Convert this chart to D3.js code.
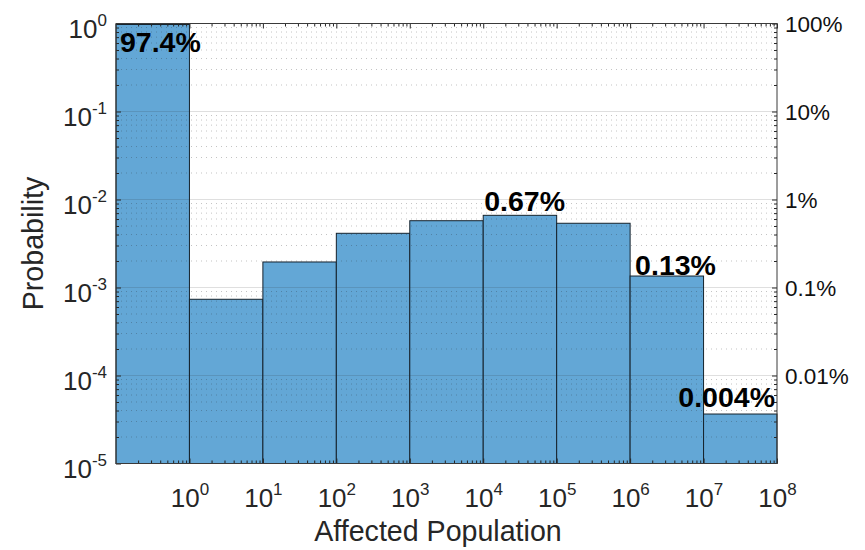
<!DOCTYPE html>
<html>
<head>
<meta charset="utf-8">
<script src="https://cdn.jsdelivr.net/npm/d3@7"></script>
<style>
  html, body { margin: 0; padding: 0; background: #fff; }
  svg { display: block; }
  text { font-family: "Liberation Sans", Arial, Helvetica, sans-serif; fill: #262626; }
</style>
</head>
<body>
<svg id="chart" width="865" height="550"></svg>
<script>
// ---- data ----
const binEdges = [1e-1, 1e0, 1e1, 1e2, 1e3, 1e4, 1e5, 1e6, 1e7, 1e8];
const probabilities = [0.974, 7.35e-4, 1.95e-3, 4.13e-3, 5.74e-3, 6.61e-3, 5.37e-3, 1.35e-3, 3.65e-5];
const barLabels = ["97.4%", "", "", "", "", "0.67%", "", "0.13%", "0.004%"];
const xTickValues = [1e0, 1e1, 1e2, 1e3, 1e4, 1e5, 1e6, 1e7, 1e8];
const xTickExponents = ["0", "1", "2", "3", "4", "5", "6", "7", "8"];
const yTickValues = [1e0, 1e-1, 1e-2, 1e-3, 1e-4, 1e-5];
const yTickExponents = ["0", "-1", "-2", "-3", "-4", "-5"];
const rightTickValues = [1, 1e-1, 1e-2, 1e-3, 1e-4];
const rightTickLabels = ["100%", "10%", "1%", "0.1%", "0.01%"];
const xLabel = "Affected Population";
const yLabel = "Probability";

// ---- layout ----
const L = 116, R = 777, T = 23.5, B = 463.5;
const svg = d3.select("#chart");

const x = d3.scaleLog().domain([1e-1, 1e8]).range([L, R]);
const y = d3.scaleLog().domain([1e-5, 1e0]).range([B, T]);

const bins = probabilities.map((p, i) => ({ x0: binEdges[i], x1: binEdges[i + 1], p, label: barLabels[i], i }));

// minor tick values
const xMinor = [];
for (let k = -1; k < 8; k++) for (let m = 2; m <= 9; m++) xMinor.push(m * Math.pow(10, k));
const yMinor = [];
for (let k = -5; k < 0; k++) for (let m = 2; m <= 9; m++) yMinor.push(m * Math.pow(10, k));

// ---- bars ----
svg.append("g").selectAll("rect").data(bins).join("rect")
  .attr("x", d => x(d.x0))
  .attr("y", d => y(d.p))
  .attr("width", d => x(d.x1) - x(d.x0))
  .attr("height", d => B - y(d.p))
  .attr("fill", "rgb(99,167,214)")
  .attr("stroke", "#15222c")
  .attr("stroke-width", 1);

// ---- grid (on top of bars) ----
const grid = svg.append("g");
grid.selectAll("line.minor").data(yMinor).join("line")
  .attr("class", "minor")
  .attr("x1", L).attr("x2", R)
  .attr("y1", d => y(d)).attr("y2", d => y(d))
  .attr("stroke", "rgba(38,38,38,0.28)")
  .attr("stroke-width", 1)
  .attr("stroke-dasharray", "1,4");
grid.selectAll("line.major").data(yTickValues).join("line")
  .attr("class", "major")
  .attr("x1", L).attr("x2", R)
  .attr("y1", d => y(d)).attr("y2", d => y(d))
  .attr("stroke", "rgba(38,38,38,0.15)")
  .attr("stroke-width", 1);

// ---- axes ----
const axisColor = "#262626";
function styleAxis(g) {
  g.select(".domain").remove();
  g.selectAll(".tick line").attr("stroke", axisColor);
}

// bottom major with labels
const gBottom = svg.append("g").attr("transform", `translate(0,${B})`)
  .call(d3.axisBottom(x).tickValues(xTickValues).tickSizeInner(-5).tickSizeOuter(0).tickPadding(0).tickFormat(""));
styleAxis(gBottom);
gBottom.selectAll(".tick text").remove();
gBottom.selectAll(".tick").append("text")
  .attr("text-anchor", "middle")
  .attr("y", 507 - B)
  .each(function (d, i) {
    const t = d3.select(this);
    t.append("tspan").attr("font-size", 26).text("10");
    t.append("tspan").attr("font-size", 17).attr("dy", -12).text(xTickExponents[i]);
  });
// bottom minor
styleAxis(svg.append("g").attr("transform", `translate(0,${B})`)
  .call(d3.axisBottom(x).tickValues(xMinor).tickSizeInner(-3).tickSizeOuter(0).tickFormat("")));
// top major + minor
styleAxis(svg.append("g").attr("transform", `translate(0,${T})`)
  .call(d3.axisTop(x).tickValues(xTickValues).tickSizeInner(-5).tickSizeOuter(0).tickFormat("")));
styleAxis(svg.append("g").attr("transform", `translate(0,${T})`)
  .call(d3.axisTop(x).tickValues(xMinor).tickSizeInner(-3).tickSizeOuter(0).tickFormat("")));

// left major with labels
const gLeft = svg.append("g").attr("transform", `translate(${L},0)`)
  .call(d3.axisLeft(y).tickValues(yTickValues).tickSizeInner(-5).tickSizeOuter(0).tickFormat(""));
styleAxis(gLeft);
gLeft.selectAll(".tick text").remove();
gLeft.selectAll(".tick").append("text")
  .attr("text-anchor", "end")
  .attr("x", 107 - L)
  .attr("y", 14)
  .each(function (d, i) {
    const t = d3.select(this);
    t.append("tspan").attr("font-size", 26).text("10");
    t.append("tspan").attr("font-size", 17).attr("dy", -12).text(yTickExponents[i]);
  });
styleAxis(svg.append("g").attr("transform", `translate(${L},0)`)
  .call(d3.axisLeft(y).tickValues(yMinor).tickSizeInner(-3).tickSizeOuter(0).tickFormat("")));

// right major with percent labels
const gRight = svg.append("g").attr("transform", `translate(${R},0)`)
  .call(d3.axisRight(y).tickValues(rightTickValues).tickSizeInner(-5).tickSizeOuter(0)
    .tickFormat((d, i) => rightTickLabels[i]));
styleAxis(gRight);
gRight.selectAll(".tick text")
  .attr("x", 8).attr("dy", null).attr("y", 8)
  .attr("text-anchor", "start")
  .attr("font-size", 22.5)
  .style("fill", "#111");
styleAxis(svg.append("g").attr("transform", `translate(${R},0)`)
  .call(d3.axisRight(y).tickValues(yMinor).tickSizeInner(-3).tickSizeOuter(0).tickFormat("")));

// box
svg.append("rect")
  .attr("x", L).attr("y", T).attr("width", R - L).attr("height", B - T)
  .attr("fill", "none").attr("stroke", "#3a3a3a").attr("stroke-width", 1);

// ---- bar labels ----
svg.append("g").selectAll("text").data(bins.filter(d => d.label)).join("text")
  .attr("font-size", 28.5)
  .attr("font-weight", "bold")
  .style("fill", "#000")
  .attr("text-anchor", d => d.i === bins.length - 1 ? "end" : "start")
  .attr("x", d => d.i === bins.length - 1 ? x(d.x1) - 2 : x(d.x0) + (d.i === 0 ? 4 : d.i === 5 ? 1 : 5))
  .attr("y", d => d.i === 0 ? y(d.p) + 27 : d.i === bins.length - 1 ? y(d.p) - 7 : y(d.p) - (d.i === 5 ? 4 : 1))
  .text(d => d.label);

// ---- axis titles ----
svg.append("text")
  .attr("x", 438).attr("y", 541)
  .attr("text-anchor", "middle")
  .attr("font-size", 28.6)
  .text(xLabel);
svg.append("text")
  .attr("transform", `translate(43,${(T + B) / 2}) rotate(-90)`)
  .attr("text-anchor", "middle")
  .attr("font-size", 28.6)
  .text(yLabel);
</script>
</body>
</html>
